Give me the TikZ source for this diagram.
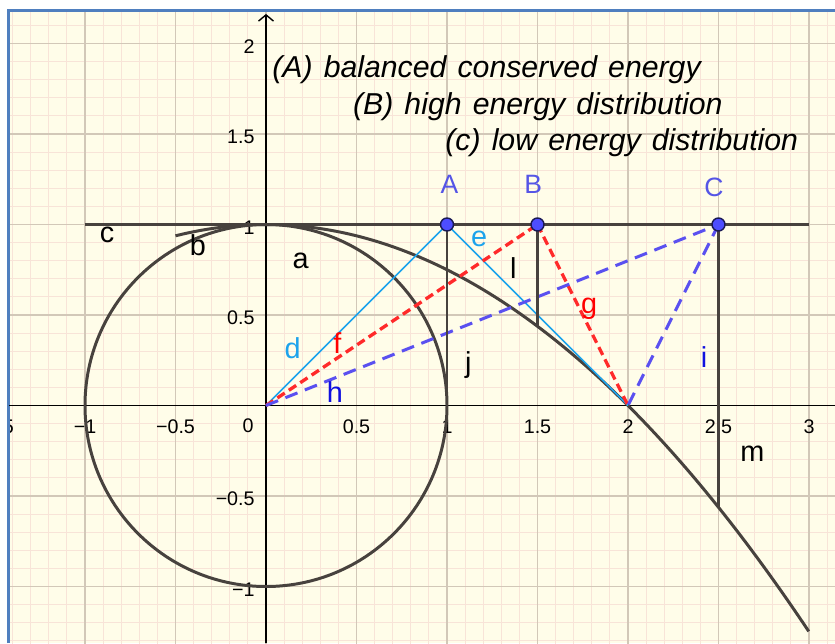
\documentclass[tikz,border=0pt]{standalone}
\usepackage{fontspec}
\setmainfont{Liberation Sans}
\usetikzlibrary{arrows.meta}
\definecolor{ggcream}{HTML}{FFFDE9}
\definecolor{ggminor}{HTML}{F8E4D8}
\definecolor{ggmajor}{HTML}{D2C8B8}
\definecolor{ggframe}{HTML}{4F7FBF}
\definecolor{ggdark}{HTML}{47423E}
\definecolor{ggsky}{HTML}{1CA3EC}
\definecolor{ggred}{HTML}{FF2A2A}
\definecolor{ggviolet}{HTML}{5A50F0}
\definecolor{ggblue}{HTML}{1010E0}
\definecolor{ggpoint}{HTML}{4D4DFF}
\definecolor{ggnavy}{HTML}{1A1A55}
\definecolor{gglabel}{HTML}{5555E6}
\newcommand\ttlfont{\fontsize{17.2}{20}\selectfont\itshape\spaceskip=0.37em\relax}
\tikzset{
  >={Straight Barb[length=3.5pt,width=8.5pt]},
  % rutnaet
  minorgrid/.style={draw=ggminor,line width=0.5pt},
  majorgrid/.style={draw=ggmajor,line width=0.6pt},
  axis/.style={draw=black,line width=0.8pt},
  tk/.style={font=\fontsize{11.2}{13}\selectfont,inner sep=0pt},
  % objekt
  curv/.style={draw=ggdark,line width=1.7pt},
  seg/.style={draw=ggdark,line width=1.6pt},
  lseg/.style={draw=ggsky,line width=0.9pt},
  rdsh/.style={draw=ggred,line width=1.9pt,dash pattern=on 5pt off 2.8pt},
  bdsh/.style={draw=ggviolet,line width=1.7pt,dash pattern=on 7.4pt off 4.5pt},
  pt/.style={circle,fill=ggpoint,draw=ggnavy,line width=0.8pt,inner sep=0pt,
             minimum size=7.4pt},
  lbl/.style={font=\fontsize{16.4}{18}\selectfont,inner sep=0pt},
  plbl/.style={font=\fontsize{15.1}{17}\selectfont,inner sep=0pt,text=gglabel},
  ttl/.style={font=\ttlfont,inner sep=0pt,anchor=base west},
}
\begin{document}
\begin{tikzpicture}[x=3.62cm,y=3.62cm]
  \useasboundingbox (-1.4696,-1.3122) rectangle (3.1436,2.2403);
  \fill[white] (-1.4696,-1.3122) rectangle (3.1436,2.2403);
  \fill[ggcream] (-1.4199,-1.3122) rectangle (3.1436,2.1796);
  \begin{scope}
    \clip (-1.4199,-1.3122) rectangle (3.1436,2.1796);
    \foreach \k in {-15,...,32} \draw[minorgrid] (\k/10,-1.4) -- (\k/10,2.3);
    \foreach \k in {-14,...,22} \draw[minorgrid] (-1.5,\k/10) -- (3.2,\k/10);
    \foreach \k in {-3,...,6} \draw[majorgrid] (\k/2,-1.4) -- (\k/2,2.3);
    \foreach \k in {-2,...,4} \draw[majorgrid] (-1.5,\k/2) -- (3.2,\k/2);
    \foreach \v/\t [count=\n] in {-1.5/−1.5,-1/−1,-0.5/−0.5,0.5/0.5,1/1,1.5/1.5,2/2,2.5/2.5,3/3}
      \node[tk] (xt\n) at (\v,-0.117) {\t};
  \end{scope}
  \draw[ggframe,line width=1.7pt] (-1.4199,-1.3122) -- (-1.4199,2.1796) -- (3.1436,2.1796);
  \coordinate (xl) at (-1.4199,0); \coordinate (xr) at (3.1436,0);
  \coordinate (yb) at (0,-1.3122); \coordinate (yt) at (0,2.163);
  \draw[axis] (xl) -- (xr);
  \draw[axis,->] (yb) -- (yt);
  \foreach \v/\t [count=\n] in {-1/−1,-0.5/−0.5,0.5/0.5,1/1,1.5/1.5,2/2}
    \node[tk,anchor=east] (yt\n) at (-0.061,\v-0.017) {\t};
  \node[tk] (orig) at (-0.099,-0.112) {0};

  \coordinate (O) at (0,0); \coordinate (D) at (2,0);
  \coordinate (cL) at (-1,1); \coordinate (cR) at (3,1);
  \coordinate (pA) at (1,1); \coordinate (pB) at (1.5,1); \coordinate (pC) at (2.5,1);
  \coordinate (jF) at (1,0); \coordinate (lF) at (1.5,0.4375); \coordinate (mF) at (2.5,-0.5625);
  \draw[curv] (O) circle[radius=1];
  \draw[curv] plot[domain=-0.5:3,samples=100] (\x,{1-\x*\x/4});
  \draw[curv] (cL) -- (cR);
  \draw[lseg] (O) -- (pA); \draw[lseg] (pA) -- (D);
  \draw[rdsh] (O) -- (pB); \draw[rdsh] (pB) -- (D);
  \draw[bdsh] (O) -- (pC); \draw[bdsh] (pC) -- (D);
  \draw[seg] (pA) -- (jF); \draw[seg] (pB) -- (lF); \draw[seg] (pC) -- (mF);
  \node[pt] (A) at (pA) {}; \node[pt] (B) at (pB) {}; \node[pt] (C) at (pC) {};

  \node[plbl] (lA) at (1.013,1.224) {A};
  \node[plbl] (lB) at (1.477,1.224) {B};
  \node[plbl] (lC) at (2.475,1.206) {C};
  \node[lbl] (la) at (0.192,0.800) {a};
  \node[lbl] (lb) at (-0.376,0.887) {b};
  \node[lbl] (lc) at (-0.878,0.942) {c};
  \node[lbl,text=ggsky] (ld) at (0.147,0.319) {d};
  \node[lbl,text=ggsky] (le) at (1.177,0.920) {e};
  \node[lbl,text=red] (lf) at (0.394,0.347) {f};
  \node[lbl,text=red] (lg) at (1.785,0.537) {g};
  \node[lbl,text=ggblue] (lh) at (0.381,0.076) {h};
  \node[lbl,text=ggblue] (li) at (2.420,0.268) {i};
  \node[lbl] (lj) at (1.118,0.224) {j};
  \node[lbl] (ll) at (1.366,0.758) {l};
  \node[lbl] (lm) at (2.687,-0.268) {m};

  \node[ttl] (t1) at (0.033,1.814) {(A) balanced conserved energy};
  \node[ttl] (t2) at (0.479,1.610) {(B) high energy distribution};
  \node[ttl] (t3) at (0.989,1.408) {(c) low energy distribution};
\end{tikzpicture}
\end{document}
